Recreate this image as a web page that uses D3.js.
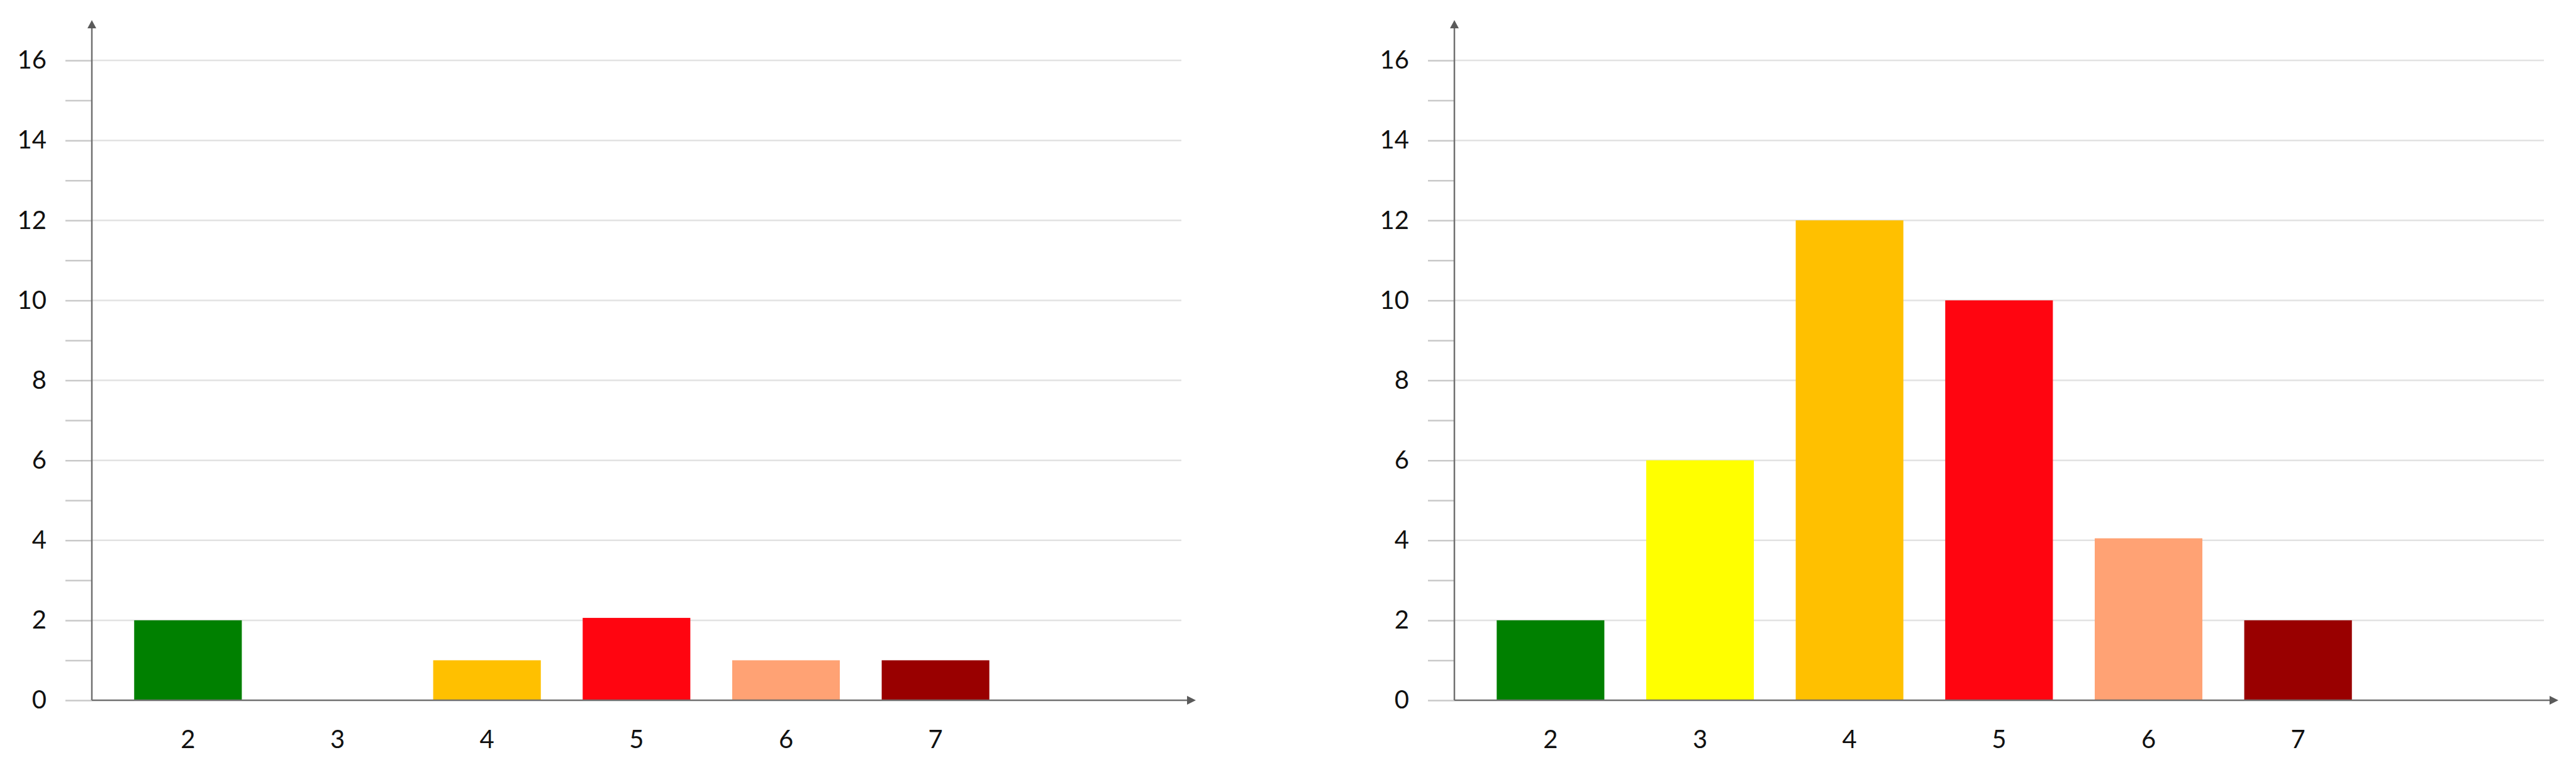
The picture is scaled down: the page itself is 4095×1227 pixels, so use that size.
<!DOCTYPE html>
<html>
<head>
<meta charset="utf-8">
<script src="https://cdn.jsdelivr.net/npm/d3@7"></script>
<style>
  body { margin: 0; background: #fff; }
  svg { display: block; }
  .y-axis text, .x-axis text { font-family: Lato, "Open Sans", sans-serif; font-size: 40px; fill: #111; }
</style>
</head>
<body>
<div id="vis"></div>
<script>
const W = 4095, H = 1227;

// data
const categories = ["2", "3", "4", "5", "6", "7"];
const leftValues = [2, 0, 1, 2.06, 1, 1];
const rightValues = [2, 6, 12, 10, 4.05, 2];
const barColors = ["#008000", "#ffff00", "#ffc000", "#ff0510", "#ffa274", "#990000"];
const yTickValues = d3.range(0, 17, 1);
const yMax = 16;

// layout for one panel (right one is shifted)
const panelOffsets = [0, 2166];
const axisX = 146, baseY = 1113, topY = 96;
const arrowTopY = 32, arrowRightX = 1901, gridEnd = 1878;
const bandStart = 180, bandEnd = 1606;
const tickLen = 42;

const svg = d3.select('#vis')
    .append('svg')
    .attr('width', W)
    .attr('height', H);

svg.append('rect').attr('width', W).attr('height', H).attr('fill', '#fff');

const yScale = d3.scaleLinear().domain([0, yMax]).range([baseY, topY]);
const xScale = d3.scaleBand()
    .domain(categories)
    .range([bandStart, bandEnd])
    .paddingInner(0.28)
    .paddingOuter(0.14);

function drawPanel(values, ox) {
    const g = svg.append('g').attr('transform', `translate(${ox},0)`);

    // gridlines at even values
    g.selectAll('.grid')
        .data(yTickValues.filter(d => d % 2 === 0 && d > 0))
        .join('line')
        .attr('class', 'grid')
        .attr('x1', axisX)
        .attr('x2', gridEnd)
        .attr('y1', d => yScale(d))
        .attr('y2', d => yScale(d))
        .attr('stroke', '#e2e2e2')
        .attr('stroke-width', 2.5);

    // bars
    g.selectAll('.bar')
        .data(categories.map((c, i) => ({cat: c, value: values[i], color: barColors[i]})))
        .join('rect')
        .attr('class', 'bar')
        .attr('x', d => xScale(d.cat))
        .attr('y', d => yScale(d.value))
        .attr('width', xScale.bandwidth())
        .attr('height', d => baseY - yScale(d.value))
        .attr('fill', d => d.color);

    // y axis: ticks and labels
    const yAxis = g.append('g')
        .attr('class', 'y-axis')
        .attr('transform', `translate(${axisX},0)`)
        .call(d3.axisLeft(yScale)
            .tickValues(yTickValues)
            .tickSize(tickLen)
            .tickPadding(30)
            .tickFormat(d => d % 2 === 0 ? d : ''));
    yAxis.select('.domain').remove();
    yAxis.selectAll('.tick line').attr('stroke', '#c9c9c9').attr('stroke-width', 2.5);

    // x axis labels
    const xAxis = g.append('g')
        .attr('class', 'x-axis')
        .attr('transform', `translate(0,${baseY})`)
        .call(d3.axisBottom(xScale).tickSize(0).tickPadding(48));
    xAxis.select('.domain').remove();

    // axis lines with arrows
    g.append('line')
        .attr('x1', axisX).attr('x2', axisX)
        .attr('y1', baseY).attr('y2', arrowTopY + 10)
        .attr('stroke', '#707070').attr('stroke-width', 2.5);
    g.append('path')
        .attr('d', `M${axisX},${arrowTopY} L${axisX - 7},${arrowTopY + 13} L${axisX + 7},${arrowTopY + 13} Z`)
        .attr('fill', '#5a5a5a');

    g.append('line')
        .attr('x1', axisX).attr('x2', arrowRightX - 10)
        .attr('y1', baseY).attr('y2', baseY)
        .attr('stroke', '#707070').attr('stroke-width', 2.5);
    g.append('path')
        .attr('d', `M${arrowRightX},${baseY} L${arrowRightX - 14},${baseY - 7} L${arrowRightX - 14},${baseY + 7} Z`)
        .attr('fill', '#5a5a5a');
}

drawPanel(leftValues, panelOffsets[0]);
drawPanel(rightValues, panelOffsets[1]);
</script>
</body>
</html>
